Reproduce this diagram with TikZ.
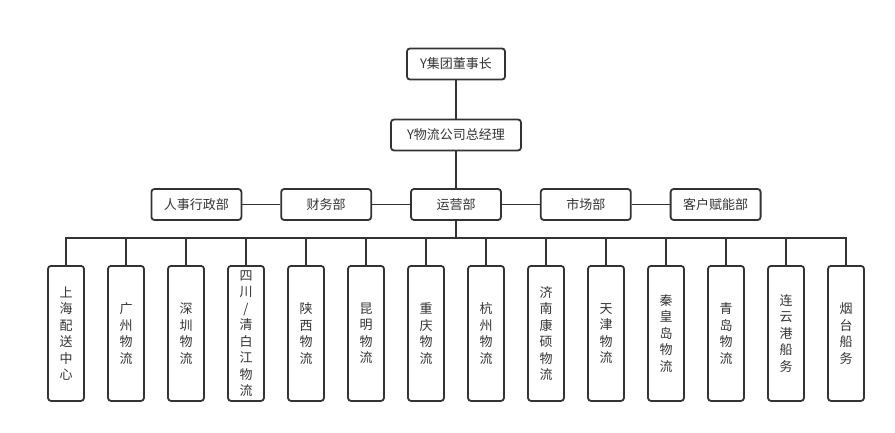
\documentclass[tikz,border=0pt]{standalone}
\usepackage{fontspec}
\newfontfamily\cjk{Noto Sans CJK SC}
\usetikzlibrary{positioning}
\definecolor{linegray}{HTML}{333333}

\begin{document}
\begin{tikzpicture}[
  x=1pt, y=-1pt,
  box/.style={rectangle, draw=linegray, line width=1.8pt, rounded corners=3pt,
    minimum height=31pt, minimum width=90pt, inner xsep=12.5pt, text=linegray,
    font=\cjk\fontsize{13}{16.5}\selectfont},
  vbox/.style={box, minimum width=36pt, minimum height=135pt, inner xsep=0pt,
    align=center, anchor=north},
  link/.style={draw=linegray, line width=1.8pt}
]
  \useasboundingbox (0,0) rectangle (895,433);

  \node[box, minimum width=98pt] (board) at (456,64) {Y集团董事长};
  \node[box, minimum width=130pt] (gm) at (456,135) {Y物流公司总经理};

  \node[box] (ops) at (456,204.5) {运营部};
  \node[box, left=38pt of ops] (fin) {财务部};
  \node[box, left=38pt of fin] (hr) {人事行政部};
  \node[box, right=38pt of ops] (mkt) {市场部};
  \node[box, right=38pt of mkt] (cust) {客户赋能部};

  \foreach \txt [count=\i] in {
    {上\\海\\配\\送\\中\\心}, {广\\州\\物\\流}, {深\\圳\\物\\流},
    {四\\川\\/\\清\\白\\江\\物\\流}, {陕\\西\\物\\流}, {昆\\明\\物\\流},
    {重\\庆\\物\\流}, {杭\\州\\物\\流}, {济\\南\\康\\硕\\物\\流},
    {天\\津\\物\\流}, {秦\\皇\\岛\\物\\流}, {青\\岛\\物\\流},
    {连\\云\\港\\船\\务}, {烟\\台\\船\\务}}
    \node[vbox] (b\i) at (6+60*\i,265) {\txt};

  \draw[link] (board) -- (gm);
  \draw[link] (gm) -- (ops);
  \draw[link] (hr) -- (fin);
  \draw[link] (fin) -- (ops);
  \draw[link] (ops) -- (mkt);
  \draw[link] (mkt) -- (cust);

  \draw[link] (ops.south) -- ++(0,17) coordinate (bus);
  \draw[link] (b1.north) |- (b14.north |- bus) -- (b14.north);
  \foreach \i in {2,...,13}
    \draw[link] (b\i.north) -- (b\i.north |- bus);
\end{tikzpicture}
\end{document}
